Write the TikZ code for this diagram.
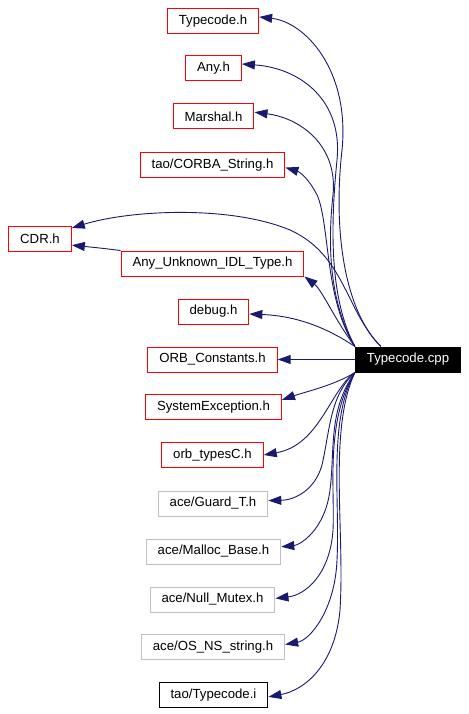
\documentclass[tikz,border=0pt]{standalone}
\usepackage{fontspec}
\setmainfont{Liberation Sans}
\usetikzlibrary{arrows.meta}
\definecolor{depblue}{RGB}{25,25,112}
\definecolor{extgray}{RGB}{191,191,191}
\begin{document}
\begin{tikzpicture}[
			x=1pt, y=-1pt,
			font=\fontsize{13.2}{16}\selectfont,
			file/.style={rectangle, draw=red, line width=1pt, minimum height=25pt, inner xsep=11.5pt, inner ysep=0pt},
			extfile/.style={file, draw=extgray},
			inlfile/.style={file, draw=black},
			srcfile/.style={file, draw=black, fill=black, text=white},
			dep/.style={draw=depblue, line width=0.9pt, -{Triangle[length=13pt,width=9pt]}}
		]
		\useasboundingbox (0,0) rectangle (468,714);
		\node[file] (tch) at (213,21) {Typecode.h};
		\node[file] (any) at (213.5,68.5) {Any.h};
		\node[file] (marshal) at (213.5,116.5) {Marshal.h};
		\node[file] (corbastr) at (212.5,165) {tao/CORBA\_String.h};
		\node[file] (cdr) at (40,239) {CDR.h};
		\node[file] (anyunk) at (212.5,263.5) {Any\_Unknown\_IDL\_Type.h};
		\node[file] (debug) at (213.5,311.5) {debug.h};
		\node[file] (orbconst) at (212.5,359.5) {ORB\_Constants.h};
		\node[srcfile] (cpp) at (408,359.5) {Typecode.cpp};
		\node[file] (sysexc) at (213.5,407) {SystemException.h};
		\node[file] (orbtypes) at (212.5,455) {orb\_typesC.h};
		\node[extfile] (guard) at (213,503.5) {ace/Guard\_T.h};
		\node[extfile] (malloc) at (213.5,551.5) {ace/Malloc\_Base.h};
		\node[extfile] (nullmutex) at (212.5,599.5) {ace/Null\_Mutex.h};
		\node[extfile] (osstring) at (213,647) {ace/OS\_NS\_string.h};
		\node[inlfile] (tci) at (213.5,695) {tao/Typecode.i};
		\draw[dep] ([xshift=26pt]cpp.north west) .. controls (348,315) and (332,240) .. (342,150) .. controls (350,70) and (305,22) .. (tch.5);
		\draw[dep] (cpp.north west) .. controls (330,300) and (330,230) .. (337,160) .. controls (343,100) and (300,68) .. (any.9);
		\draw[dep] (cpp.north west) .. controls (328,300) and (328,240) .. (333,195) .. controls (338,145) and (300,118) .. (marshal.6);
		\draw[dep] (cpp.north west) .. controls (325,300) and (330,230) .. (318,197) .. controls (310,180) and (300,172) .. (corbastr.-2);
		\draw[dep] ([xshift=26pt]cpp.north west) .. controls (345,310) and (345,255) .. (290,230) .. controls (230,205) and (130,210) .. (cdr.19);
		\draw[dep] (cpp.north west) .. controls (335,320) and (322,290) .. (anyunk.south east);
		\draw[dep] (anyunk.north west) .. controls (100,248) .. (cdr.-11);
		\draw[dep] (cpp.north west) .. controls (330,330) and (300,316) .. (debug.-4);
		\draw[dep] (cpp.west) -- (orbconst.east);
		\draw[dep] (cpp.south west) .. controls (335,385) and (305,392) .. (sysexc.6);
		\draw[dep] (cpp.south west) .. controls (330,390) and (320,445) .. (orbtypes.0);
		\draw[dep] (cpp.south west) .. controls (330,395) and (330,430) .. (322,465) .. controls (315,490) and (295,500) .. (guard.3);
		\draw[dep] (cpp.south west) .. controls (328,410) and (335,450) .. (330,490) .. controls (325,530) and (300,545) .. (malloc.4);
		\draw[dep] (cpp.south west) .. controls (325,420) and (335,490) .. (333,530) .. controls (330,575) and (305,595) .. (nullmutex.1);
		\draw[dep] (cpp.south west) .. controls (328,420) and (340,500) .. (337,560) .. controls (335,610) and (310,640) .. (osstring.2);
		\draw[dep] (cpp.south west) .. controls (328,430) and (345,530) .. (340,610) .. controls (335,665) and (305,690) .. (tci.-2);
	\end{tikzpicture}
\end{document}
